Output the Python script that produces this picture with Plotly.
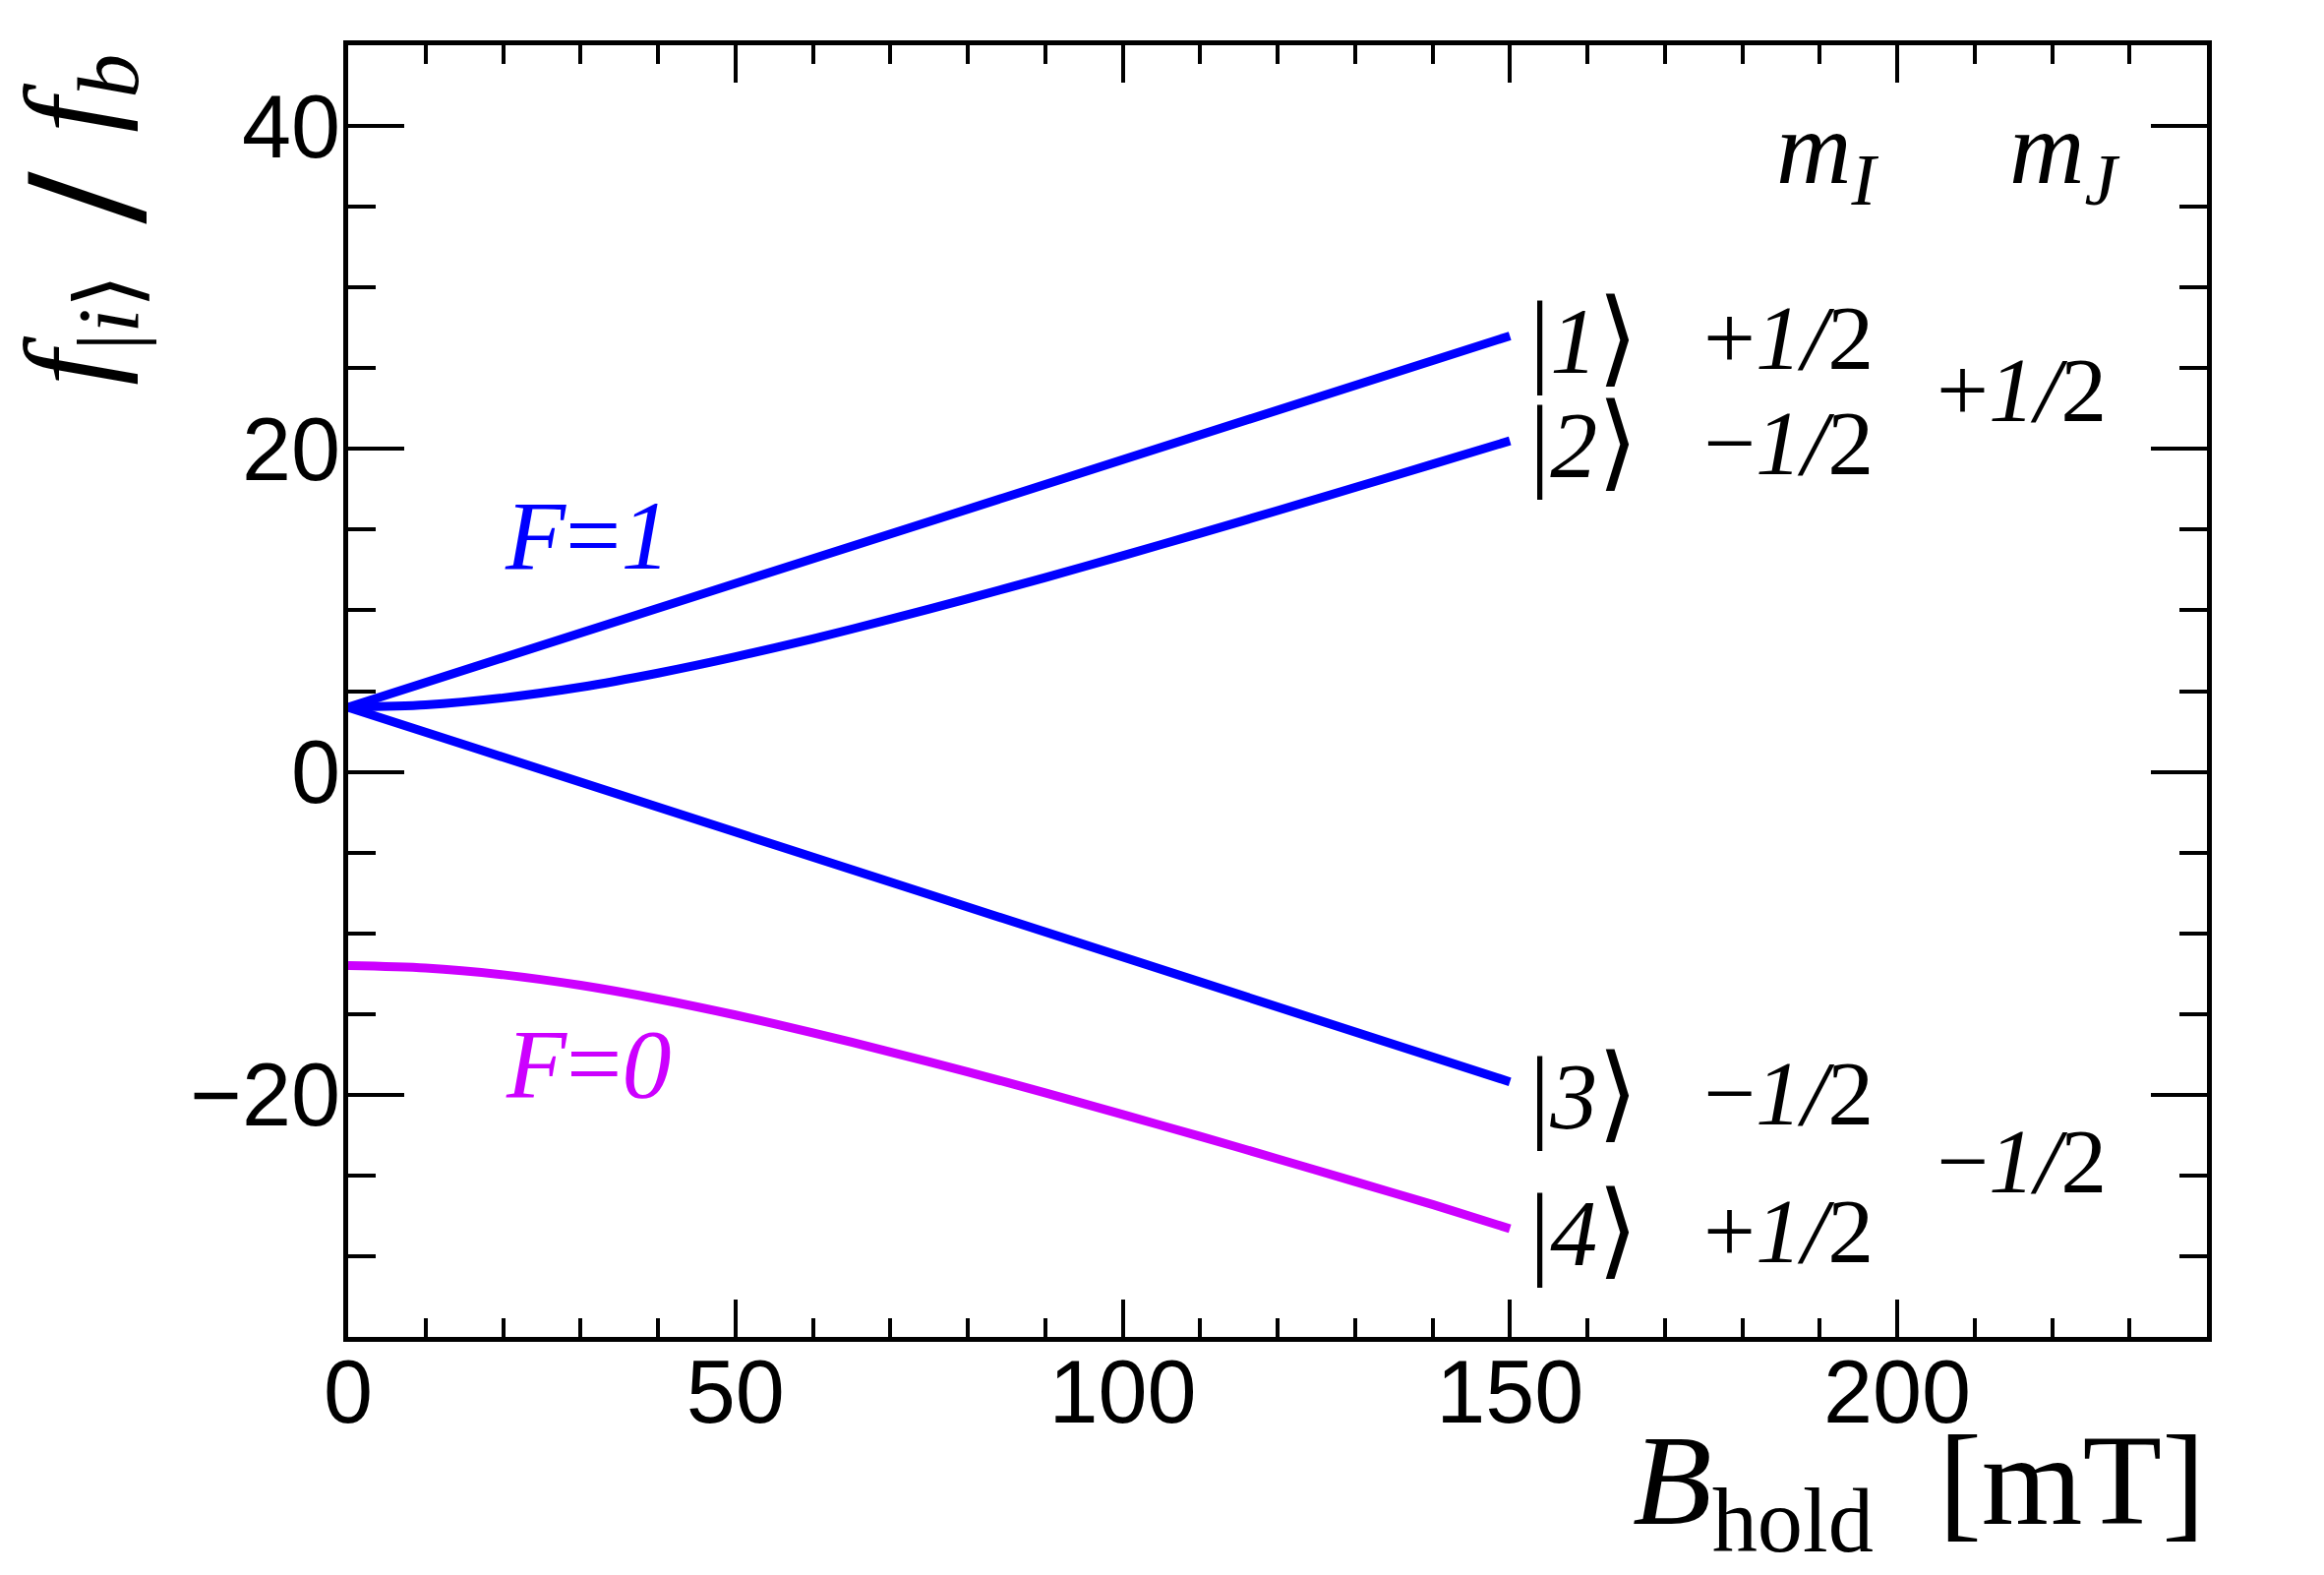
import plotly.graph_objects as go

# ---- data ----
B_mT = [0, 10, 20, 30, 40, 50, 60, 70, 80, 90, 100, 110, 120, 130, 140, 150]
state2 = [4.00, 4.15, 4.58, 5.24, 6.11, 7.12, 8.24, 9.45, 10.72, 12.03, 13.39, 14.77, 16.18, 17.61, 19.05, 20.50]
state4 = [-12.00, -12.15, -12.57, -13.22, -14.07, -15.06, -16.16, -17.35, -18.59, -19.88, -21.22, -22.58, -23.97, -25.38, -26.80, -28.30]
B_lin = [0, 75, 150]
state1 = [4.0, 15.5, 27.0]
state3 = [4.0, -7.6, -19.2]

x_ticks = [0, 50, 100, 150, 200]
y_ticks = [-20, 0, 20, 40]

BLUE = "#0000FF"
MAGENTA = "#CC00FF"
SERIF = "Liberation Serif, Times New Roman, DejaVu Serif, serif"
SANS = "Liberation Sans, Arial, Helvetica, sans-serif"

fig = go.Figure()
for xs, ys, col in [(B_lin, state1, BLUE), (B_mT, state2, BLUE), (B_lin, state3, BLUE), (B_mT, state4, MAGENTA)]:
    fig.add_trace(go.Scatter(x=xs, y=ys, mode="lines",
                             line=dict(color=col, width=9, shape="spline", smoothing=0.8),
                             showlegend=False, hoverinfo="skip"))

W, H = 2363, 1601
X0, X1, Y0, Y1 = 354, 2244, 46, 1359   # plot frame in pixels
fig.update_layout(
    width=W, height=H,
    margin=dict(l=X0, r=W - X1, t=Y0, b=H - Y1, pad=0),
    paper_bgcolor="white", plot_bgcolor="white",
    showlegend=False,
)

fig.update_xaxes(
    range=[0, 240], tickvals=x_ticks, ticktext=[str(v) for v in x_ticks],
    ticks="inside", ticklen=38, tickwidth=3.5, tickcolor="black",
    minor=dict(dtick=10, tick0=0, ticks="inside", ticklen=19, tickwidth=3.5, tickcolor="black", showgrid=False),
    showline=True, linewidth=5, linecolor="black", mirror="allticks",
    showgrid=False, zeroline=False, ticklabelstandoff=-26,
    tickfont=dict(family=SANS, size=90, color="black"),
)
fig.update_yaxes(
    range=[-35, 45], tickvals=y_ticks, ticktext=[("\u2212" + str(-v)) if v < 0 else str(v) for v in y_ticks],
    ticks="inside", ticklen=57, tickwidth=3.5, tickcolor="black",
    minor=dict(dtick=5, tick0=0, ticks="inside", ticklen=28, tickwidth=3.5, tickcolor="black", showgrid=False),
    showline=True, linewidth=5, linecolor="black", mirror="allticks",
    showgrid=False, zeroline=False, ticklabelstandoff=-15,
    tickfont=dict(family=SANS, size=90, color="black"),
)

ann = []
def txt(x, y, s, size=92, color="black", xanchor="center", yanchor="middle", xref="x", yref="y", angle=0):
    ann.append(dict(x=x, y=y, text=s, showarrow=False, xref=xref, yref=yref,
                    xanchor=xanchor, yanchor=yanchor, textangle=angle,
                    font=dict(family=SERIF, size=size, color=color)))

def px(xp, yp):
    return (xp - X0) / (X1 - X0), (Y1 - yp) / (Y1 - Y0)

def ket(n):
    big = "<span style='font-size:106px'>"
    return big + "|</span><i>" + n + "</i>" + big + "\u27E9</span>"

# F labels
txt(30.9, 14.6, "<i>F</i>=<i>1</i>", size=100, color=BLUE)
txt(31.0, -18.1, "<i>F</i>=<i>0</i>", size=100, color=MAGENTA)

# kets
ket_x = 159.6
txt(ket_x, 26.9, ket("1"), size=96)
txt(ket_x, 20.4, ket("2"), size=96)
txt(ket_x, -19.9, ket("3"), size=96)
txt(ket_x, -28.4, ket("4"), size=96)

# m_I column
mi_x = 186.0
txt(mi_x, 26.9, "+<i>1/</i>2", size=94)
txt(mi_x, 20.4, "\u2212<i>1/</i>2", size=94)
txt(mi_x, -19.9, "\u2212<i>1/</i>2", size=94)
txt(mi_x, -28.4, "+<i>1/</i>2", size=94)

# m_J column
mj_x = 216.1
txt(mj_x, 23.7, "+<i>1/</i>2", size=94)
txt(mj_x, -24.1, "\u2212<i>1/</i>2", size=94)

# headers
txt(191.0, 38.2, "<i>m</i><sub><i>I</i></sub>", size=106)
txt(221.7, 38.2, "<i>m</i><sub><i>J</i></sub>", size=106)

# x axis title
txt(1.0, -0.118, "<i>B</i><sub>hold</sub>\u00A0\u00A0[mT]", size=132, xanchor="right", xref="paper", yref="paper")

# y axis title, built from three rotated pieces
xa, ya = px(79, 95)
txt(xa, ya, "<i>f</i><sub><i>b</i></sub>", size=128, xref="paper", yref="paper", angle=-90)
xa, ya = px(86, 201)
txt(xa, ya, "<b>/</b>", size=180, xref="paper", yref="paper", angle=-90)
xa, ya = px(79, 336)
txt(xa, ya, "<i>f</i><sub>|<i>i</i>\u27E9</sub>", size=128, xref="paper", yref="paper", angle=-90)

fig.update_layout(annotations=ann)
fig.write_html("out.html")
